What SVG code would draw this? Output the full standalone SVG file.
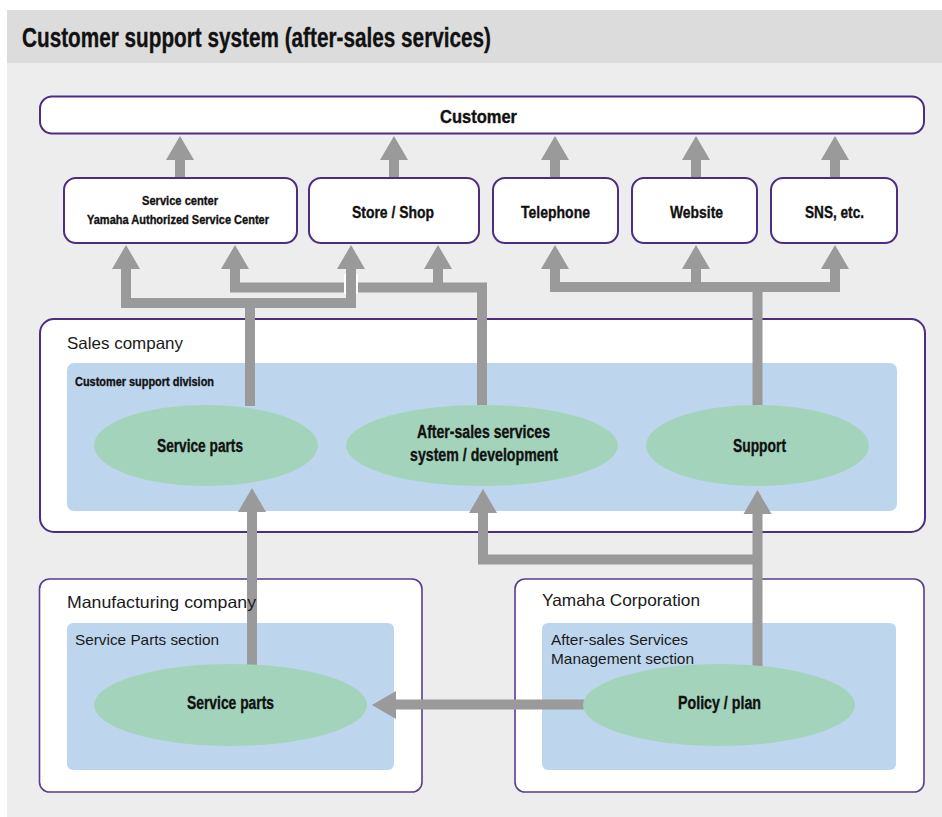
<svg xmlns="http://www.w3.org/2000/svg" xmlns:xlink="http://www.w3.org/1999/xlink" width="942" height="817" viewBox="0 0 942 817">
<style>
.box{fill:#fff;stroke:#4d2d82;stroke-width:2}
.cont{fill:#fff;stroke:#5a3d8c;stroke-width:1.6}
.sec{fill:#bdd6ee}
.ell{fill:#a3d4bb}
.b{font-family:"Liberation Sans Narrow","Liberation Sans",Arial,sans-serif;font-weight:bold;fill:#111;stroke:#111;stroke-width:0.35}
.r{font-family:"Liberation Sans",Arial,sans-serif;fill:#1a1a1a}
.sh{fill:none;stroke:#9a9a9a;stroke-width:10;stroke-linejoin:miter;stroke-linecap:butt}
.hd{fill:#9a9a9a}
</style>
<defs>
<polygon id="up" points="0,0 14,24 -14,24"/>
</defs>
<rect x="7" y="63" width="935" height="754" fill="#ededed"/>
<rect x="7" y="10" width="935" height="53" fill="#dcdcdc"/>
<text class="b" x="22" y="47" font-size="27" textLength="469" lengthAdjust="spacingAndGlyphs">Customer support system (after-sales services)</text>

<g id="containers">
<g id="sales-company"><rect class="box" x="40" y="319" width="885" height="213" rx="14"/><rect class="sec" x="67" y="363" width="830" height="148" rx="7"/></g>
<g id="manufacturing-company"><rect class="cont" x="39.5" y="579" width="382.5" height="213" rx="10"/><rect class="sec" x="67" y="623" width="327" height="147" rx="6"/></g>
<g id="yamaha-corporation"><rect class="cont" x="515" y="579" width="409" height="213" rx="10"/><rect class="sec" x="542" y="623" width="354" height="147" rx="6"/></g>
</g>

<g id="connectors">
<path class="sh" d="M180 178V158M394 178V158M555 178V158M696 178V158M835 178V158"/>
<use href="#up" class="hd" x="180" y="136"/>
<use href="#up" class="hd" x="394" y="136"/>
<use href="#up" class="hd" x="555" y="136"/>
<use href="#up" class="hd" x="696" y="136"/>
<use href="#up" class="hd" x="835" y="136"/>
<path class="sh" d="M482 406V287.5H235V268M438 287.5V268"/>
<rect x="344" y="274" width="14" height="20" fill="#fff"/>
<path class="sh" d="M126 268V303H351V268M250 303V406"/>
<path class="sh" d="M555 268V287H835V268M696 287V268M757.5 406V287"/>
<use href="#up" class="hd" x="126" y="245"/>
<use href="#up" class="hd" x="235" y="245"/>
<use href="#up" class="hd" x="351" y="245"/>
<use href="#up" class="hd" x="438" y="245"/>
<use href="#up" class="hd" x="555" y="245"/>
<use href="#up" class="hd" x="696" y="245"/>
<use href="#up" class="hd" x="835" y="245"/>
<path class="sh" d="M252 666V512M757.5 666V512M757.5 559.5H483V512"/>
<use href="#up" class="hd" x="252" y="488"/>
<use href="#up" class="hd" x="483" y="489"/>
<use href="#up" class="hd" x="757.5" y="490"/>
<path class="sh" d="M585 704.5H395"/>
<use href="#up" class="hd" transform="translate(372 705) rotate(-90)"/>
</g>

<g id="customer"><rect class="box" x="40" y="96.5" width="884" height="37" rx="12"/><text class="b" x="440" y="123" font-size="18" textLength="77" lengthAdjust="spacingAndGlyphs">Customer</text></g>
<g id="service-center"><rect class="box" x="64" y="178" width="233" height="65" rx="12"/><text class="b" x="142" y="205" font-size="13" textLength="76" lengthAdjust="spacingAndGlyphs">Service center</text><text class="b" x="87" y="224" font-size="13" textLength="182" lengthAdjust="spacingAndGlyphs">Yamaha Authorized Service Center</text></g>
<g id="store-shop"><rect class="box" x="309" y="178" width="170" height="65" rx="12"/><text class="b" x="352" y="218" font-size="17" textLength="82" lengthAdjust="spacingAndGlyphs">Store / Shop</text></g>
<g id="telephone"><rect class="box" x="493" y="178" width="125" height="65" rx="12"/><text class="b" x="521" y="218" font-size="17" textLength="69" lengthAdjust="spacingAndGlyphs">Telephone</text></g>
<g id="website"><rect class="box" x="632" y="178" width="125" height="65" rx="12"/><text class="b" x="670" y="218" font-size="17" textLength="53" lengthAdjust="spacingAndGlyphs">Website</text></g>
<g id="sns"><rect class="box" x="771" y="178" width="126" height="65" rx="12"/><text class="b" x="805" y="218" font-size="17" textLength="59" lengthAdjust="spacingAndGlyphs">SNS, etc.</text></g>

<g id="sales-service-parts"><ellipse class="ell" cx="206" cy="445.5" rx="112" ry="40.5"/><text class="b" x="157" y="452" font-size="18" textLength="86" lengthAdjust="spacingAndGlyphs">Service parts</text></g>
<g id="after-sales-system"><ellipse class="ell" cx="482" cy="445.5" rx="136" ry="40.5"/><text class="b" x="417" y="438" font-size="17.5" textLength="133" lengthAdjust="spacingAndGlyphs">After-sales services</text><text class="b" x="410" y="461" font-size="17.5" textLength="148" lengthAdjust="spacingAndGlyphs">system / development</text></g>
<g id="support"><ellipse class="ell" cx="757.5" cy="445.5" rx="111.5" ry="40.5"/><text class="b" x="733" y="452" font-size="18" textLength="53" lengthAdjust="spacingAndGlyphs">Support</text></g>
<g id="mfg-service-parts"><ellipse class="ell" cx="230.5" cy="705" rx="136.5" ry="41"/><text class="b" x="187" y="709" font-size="18" textLength="87" lengthAdjust="spacingAndGlyphs">Service parts</text></g>
<g id="policy-plan"><ellipse class="ell" cx="719" cy="705" rx="136" ry="41"/><text class="b" x="678" y="709" font-size="18" textLength="83" lengthAdjust="spacingAndGlyphs">Policy / plan</text></g>

<g id="container-labels">
<text class="r" x="67" y="349" font-size="16.5" textLength="116" lengthAdjust="spacingAndGlyphs">Sales company</text>
<text class="b" x="75" y="386" font-size="13" textLength="139" lengthAdjust="spacingAndGlyphs">Customer support division</text>
<text class="r" x="67" y="608" font-size="16.5" textLength="189" lengthAdjust="spacingAndGlyphs">Manufacturing company</text>
<text class="r" x="75" y="645" font-size="15" textLength="144" lengthAdjust="spacingAndGlyphs">Service Parts section</text>
<text class="r" x="542" y="606" font-size="16.5" textLength="158" lengthAdjust="spacingAndGlyphs">Yamaha Corporation</text>
<text class="r" x="551" y="645" font-size="15" textLength="137" lengthAdjust="spacingAndGlyphs">After-sales Services</text>
<text class="r" x="551" y="664" font-size="15" textLength="143" lengthAdjust="spacingAndGlyphs">Management section</text>
</g>
</svg>
